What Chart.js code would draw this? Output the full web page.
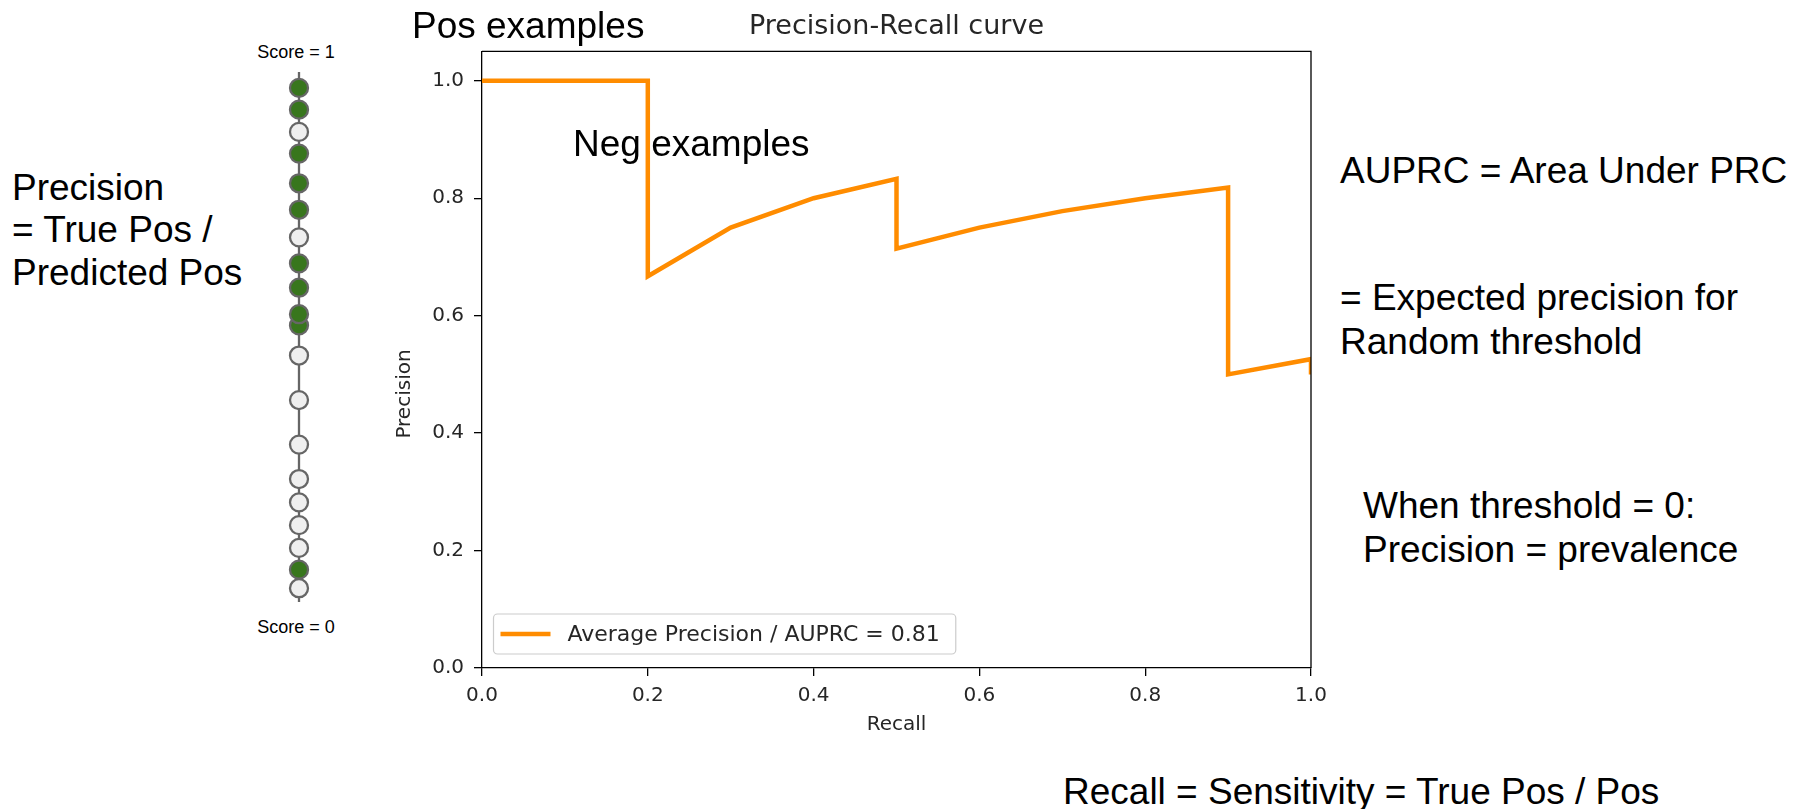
<!DOCTYPE html>
<html>
<head>
<meta charset="utf-8">
<script src="https://cdn.jsdelivr.net/npm/chart.js@4.4.0/dist/chart.umd.min.js"></script>
<style>
  html, body { margin: 0; padding: 0; background: #fff; }
  body { width: 1797px; height: 809px; position: relative; overflow: hidden; font-family: "Liberation Sans", Arial, sans-serif; color: #000; }
  .note { position: absolute; font-size: 37px; line-height: 37px; white-space: nowrap; }
  .score { position: absolute; font-size: 18px; line-height: 18px; white-space: nowrap; transform: translateX(-50%); }
  #prWrap { position: absolute; left: 380px; top: 0; width: 960px; height: 760px; }
  #stripWrap { position: absolute; left: 269px; top: 60px; width: 60px; height: 560px; }
</style>
</head>
<body>

<div class="score" style="left:296px; top:43px;">Score = 1</div>
<div class="score" style="left:296px; top:618px;">Score = 0</div>

<div class="note" style="left:12px; top:169px;">Precision</div>
<div class="note" style="left:12px; top:211px;">= True Pos /</div>
<div class="note" style="left:12px; top:254px;">Predicted Pos</div>

<div id="stripWrap"><canvas id="strip"></canvas></div>
<div id="prWrap"><canvas id="pr"></canvas></div>

<div class="note" style="left:412px; top:7px;">Pos examples</div>
<div class="note" style="left:573px; top:125px;">Neg examples</div>

<div class="note" style="left:1340px; top:152px;">AUPRC = Area Under PRC</div>
<div class="note" style="left:1340px; top:279px;">= Expected precision for</div>
<div class="note" style="left:1340px; top:323px;">Random threshold</div>
<div class="note" style="left:1363px; top:487px;">When threshold = 0:</div>
<div class="note" style="left:1363px; top:531px;">Precision = prevalence</div>
<div class="note" style="left:1063px; top:773px;">Recall = Sensitivity = True Pos / Pos</div>

<script>
// scores des exemples (du plus bas au plus haut), 1 = positif, 0 = négatif
const scores = [0.026, 0.061, 0.102, 0.145, 0.188, 0.232, 0.297, 0.381, 0.465, 0.522, 0.543, 0.593, 0.639, 0.688, 0.740, 0.790, 0.846, 0.887, 0.929, 0.970];
const isPos  = [0, 1, 0, 0, 0, 0, 0, 0, 0, 1, 1, 1, 1, 0, 1, 1, 1, 0, 1, 1];

// courbe precision-recall
const recall    = [0, 0.2, 0.2, 0.3, 0.4, 0.5, 0.5, 0.6, 0.7, 0.8, 0.9, 0.9, 1.0, 1.0];
const precision = [1.0, 1.0, 0.667, 0.75, 0.80, 0.833, 0.714, 0.75, 0.778, 0.80, 0.818, 0.50, 0.526, 0.50];
const curveLabel = "Average Precision / AUPRC = 0.81";
const chartTitle = "Precision-Recall curve";
const xTitle = "Recall";
const yTitle = "Precision";

const GREEN = "#38761d";
const ORANGE = "#ff8c00";
const TXT = "#262626";
const MPL = "DejaVu Sans";

// colonne de points à gauche
new Chart(document.getElementById("strip"), {
    type: "scatter",
    data: {
        datasets: [
            {
                data: scores.map(s => ({ x: 0, y: s })),
                pointRadius: 9,
                pointBorderWidth: 2.3,
                pointBorderColor: "#666",
                pointBackgroundColor: isPos.map(p => p ? GREEN : "#efefef"),
                clip: false,
                order: 1
            },
            {
                type: "line",
                data: [{ x: 0, y: 0 }, { x: 0, y: 1 }],
                borderColor: "#666",
                borderWidth: 2.3,
                pointRadius: 0,
                clip: false,
                order: 2
            }
        ]
    },
    options: {
        responsive: true,
        maintainAspectRatio: false,
        animation: false,
        layout: { padding: { top: 12, bottom: 18, left: 0, right: 0 } },
        plugins: { legend: { display: false }, tooltip: { enabled: false } },
        scales: {
            x: { type: "linear", display: false, min: -1, max: 1 },
            y: { type: "linear", display: false, min: 0, max: 1 }
        }
    }
});

// cadre, titres d'axes et légende façon matplotlib
const prExtras = {
    id: "prExtras",
    afterDraw(chart) {
        const ctx = chart.ctx;
        const a = chart.chartArea;
        ctx.save();
        ctx.strokeStyle = "#000";
        ctx.lineWidth = 1.3;
        ctx.beginPath();
        ctx.moveTo(a.left, a.top);
        ctx.lineTo(a.right, a.top);
        ctx.lineTo(a.right, a.bottom);
        ctx.stroke();

        ctx.fillStyle = TXT;
        ctx.font = "20px '" + MPL + "'";
        ctx.textAlign = "center";
        ctx.textBaseline = "middle";
        ctx.fillText(xTitle, (a.left + a.right) / 2, a.bottom + 57);
        ctx.save();
        ctx.translate(a.left - 77, 394);
        ctx.rotate(-Math.PI / 2);
        ctx.fillText(yTitle, 0, 0);
        ctx.restore();

        // légende
        const ds = chart.data.datasets[0];
        ctx.font = "22px '" + MPL + "'";
        const bx = a.left + 11.5, by = 614, bh = 40;
        const tw = ctx.measureText(ds.label).width;
        const bw = 75 + tw + 15;
        ctx.fillStyle = "rgba(255,255,255,0.8)";
        ctx.strokeStyle = "#cccccc";
        ctx.lineWidth = 1.2;
        ctx.beginPath();
        ctx.roundRect(bx, by, bw, bh, 4);
        ctx.fill();
        ctx.stroke();
        ctx.strokeStyle = ds.borderColor;
        ctx.lineWidth = 4.5;
        ctx.beginPath();
        ctx.moveTo(bx + 7, by + 20);
        ctx.lineTo(bx + 57, by + 20);
        ctx.stroke();
        ctx.fillStyle = TXT;
        ctx.textAlign = "left";
        ctx.fillText(ds.label, bx + 74, by + 21);
        ctx.restore();
    }
};

const tickFont = { family: MPL, size: 20 };

new Chart(document.getElementById("pr"), {
    type: "line",
    data: {
        datasets: [{
            label: curveLabel,
            data: recall.map((r, i) => ({ x: r, y: precision[i] })),
            borderColor: ORANGE,
            borderWidth: 4.5,
            pointRadius: 0,
            tension: 0,
            fill: false
        }]
    },
    options: {
        responsive: true,
        maintainAspectRatio: false,
        animation: false,
        layout: { padding: { left: 0, right: 29, top: 0, bottom: 0 } },
        plugins: {
            legend: { display: false },
            tooltip: { enabled: false },
            title: {
                display: true,
                text: chartTitle,
                fullSize: false,
                color: TXT,
                font: { family: MPL, size: 27, weight: "normal" },
                padding: { top: 11, bottom: 8 }
            }
        },
        scales: {
            x: {
                type: "linear",
                min: 0,
                max: 1,
                afterFit: s => { s.height = 92; },
                ticks: { stepSize: 0.2, includeBounds: false, callback: v => v.toFixed(1), color: TXT, font: tickFont, padding: 8, maxRotation: 0 },
                grid: { drawOnChartArea: false, drawTicks: true, tickLength: 8, color: "#000", lineWidth: 1.3 },
                border: { color: "#000", width: 1.3 }
            },
            y: {
                type: "linear",
                min: 0,
                max: 1.05,
                afterFit: s => { s.width = 102; },
                ticks: { stepSize: 0.2, includeBounds: false, callback: v => v.toFixed(1), color: TXT, font: tickFont, padding: 10 },
                grid: { drawOnChartArea: false, drawTicks: true, tickLength: 8, color: "#000", lineWidth: 1.3 },
                border: { color: "#000", width: 1.3 }
            }
        }
    },
    plugins: [prExtras]
});
</script>
</body>
</html>
